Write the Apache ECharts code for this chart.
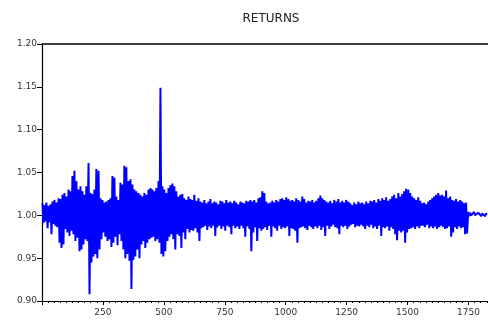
<!DOCTYPE html>
<html>
<head>
<meta charset="utf-8">
<script src="https://cdn.jsdelivr.net/npm/echarts@6/dist/echarts.min.js"></script>
<style>
html,body{margin:0;padding:0;background:#fff;}
#chart{width:488px;height:320px;}
</style>
</head>
<body>
<div id="chart"></div>
<script>
var titleText = 'RETURNS';
var yTicks = [0.90, 0.95, 1.00, 1.05, 1.10, 1.15, 1.20];
var xTickLabels = [250, 500, 750, 1000, 1250, 1500, 1750];
var obsStart = 2;
var obsStep = 4.1;
var returns = [
1.014,0.991,1.012,0.993,1.015,0.985,1.011,0.992,1.013,0.978,
1.016,0.990,1.018,0.988,1.015,0.986,1.020,0.968,1.019,0.962,
1.024,0.966,1.026,0.984,1.022,0.980,1.030,0.976,1.028,0.982,
1.046,0.978,1.052,0.970,1.040,0.974,1.030,0.958,1.034,0.960,
1.028,0.966,1.024,0.972,1.034,0.970,1.061,0.908,1.026,0.945,
1.025,0.952,1.030,0.955,1.054,0.950,1.052,0.960,1.020,0.972,
1.018,0.980,1.015,0.975,1.016,0.970,1.018,0.972,1.020,0.963,
1.046,0.968,1.044,0.975,1.022,0.965,1.018,0.978,1.038,0.970,
1.036,0.960,1.058,0.950,1.056,0.955,1.040,0.947,1.042,0.914,
1.036,0.948,1.030,0.952,1.028,0.960,1.026,0.950,1.024,0.966,
1.022,0.970,1.026,0.962,1.024,0.968,1.030,0.972,1.032,0.974,
1.030,0.975,1.028,0.970,1.032,0.972,1.040,0.968,1.149,0.955,
1.034,0.952,1.030,0.958,1.026,0.970,1.032,0.975,1.035,0.978,
1.037,0.972,1.034,0.960,1.028,0.978,1.022,0.976,1.024,0.962,
1.025,0.980,1.020,0.972,1.018,0.984,1.022,0.980,1.019,0.983,
1.018,0.982,1.024,0.985,1.017,0.980,1.020,0.970,1.016,0.985,
1.015,0.986,1.018,0.988,1.014,0.983,1.016,0.987,1.019,0.985,
1.014,0.988,1.016,0.976,1.015,0.986,1.013,0.988,1.017,0.984,
1.016,0.987,1.014,0.982,1.018,0.988,1.015,0.986,1.016,0.978,
1.014,0.988,1.017,0.985,1.015,0.987,1.013,0.984,1.016,0.988,
1.015,0.985,1.014,0.975,1.017,0.987,1.016,0.984,1.018,0.958,
1.016,0.980,1.018,0.986,1.015,0.970,1.020,0.985,1.021,0.982,
1.028,0.984,1.026,0.986,1.016,0.983,1.014,0.988,1.015,0.975,
1.017,0.987,1.015,0.985,1.018,0.982,1.016,0.988,1.019,0.984,
1.020,0.986,1.018,0.985,1.021,0.987,1.019,0.976,1.017,0.985,
1.018,0.984,1.016,0.982,1.020,0.968,1.018,0.985,1.016,0.986,
1.022,0.987,1.019,0.985,1.015,0.983,1.017,0.988,1.016,0.986,
1.018,0.984,1.015,0.987,1.017,0.985,1.020,0.988,1.023,0.983,
1.020,0.986,1.018,0.976,1.016,0.988,1.015,0.984,1.017,0.987,
1.014,0.989,1.018,0.986,1.016,0.985,1.019,0.978,1.015,0.988,
1.017,0.986,1.015,0.988,1.018,0.984,1.016,0.987,1.014,0.989,
1.012,0.990,1.015,0.986,1.013,0.988,1.016,0.987,1.014,0.989,
1.015,0.987,1.013,0.984,1.016,0.988,1.014,0.986,1.017,0.989,
1.016,0.985,1.018,0.987,1.015,0.984,1.019,0.988,1.017,0.976,
1.020,0.986,1.018,0.985,1.021,0.987,1.017,0.982,1.019,0.986,
1.022,0.984,1.024,0.978,1.020,0.971,1.026,0.982,1.022,0.980,
1.025,0.982,1.028,0.968,1.031,0.980,1.030,0.984,1.026,0.985,
1.022,0.986,1.020,0.984,1.018,0.987,1.021,0.985,1.017,0.988,
1.014,0.988,1.015,0.986,1.013,0.989,1.016,0.985,1.018,0.987,
1.020,0.985,1.022,0.987,1.024,0.984,1.026,0.986,1.023,0.988,
1.024,0.986,1.022,0.984,1.029,0.985,1.020,0.987,1.022,0.975,
1.018,0.980,1.017,0.986,1.019,0.984,1.016,0.987,1.018,0.985,
1.016,0.986,1.014,0.978,1.015,0.979,1.004,0.999,1.003,1.000,
1.002,0.999,1.004,1.000,1.002,0.998,1.003,1.001,1.004,0.999,
1.002,1.000,1.003,0.999,1.002,1.001
];

var seriesData = returns.map(function (v, k) {
  return [Math.round(obsStart + k * obsStep), v];
});

var chart = echarts.init(document.getElementById('chart'), null, {renderer: 'canvas'});
var font = 'DejaVu Sans';
chart.setOption({
  animation: false,
  backgroundColor: '#ffffff',
  title: {
    text: titleText,
    left: 266,
    textAlign: 'center',
    top: 8,
    textStyle: {fontFamily: font, fontSize: 12, fontWeight: 'normal', color: '#222'}
  },
  grid: {left: 42, right: 0, top: 44, bottom: 19, containLabel: false},
  xAxis: [{
    type: 'value',
    min: 0,
    max: 1830,
    interval: 250,
    position: 'bottom',
    axisLine: {show: true, lineStyle: {color: '#000', width: 1.2}},
    axisTick: {show: true, length: 4, lineStyle: {color: '#000'}},
    minorTick: {show: true, splitNumber: 10, length: 2, lineStyle: {color: '#000'}},
    splitLine: {show: false},
    axisLabel: {
      show: true, margin: 7, fontFamily: font, fontSize: 9, color: '#333',
      showMinLabel: false, showMaxLabel: false,
      formatter: function (v) { return xTickLabels.indexOf(v) >= 0 ? String(v) : ''; }
    }
  }, {
    type: 'value',
    min: 0,
    max: 1830,
    position: 'top',
    axisLine: {show: true, onZero: false, lineStyle: {color: '#000', width: 1.5}},
    axisTick: {show: false},
    axisLabel: {show: false},
    splitLine: {show: false}
  }],
  yAxis: {
    type: 'value',
    min: 0.90,
    max: 1.20,
    interval: 0.05,
    axisLine: {show: true, lineStyle: {color: '#000', width: 1.2}},
    axisTick: {show: true, length: 5, lineStyle: {color: '#000'}},
    splitLine: {show: false},
    axisLabel: {
      margin: 5, fontFamily: font, fontSize: 9, color: '#333',
      formatter: function (v) {
        var r = Math.round(v * 100) / 100;
        return yTicks.indexOf(r) >= 0 ? r.toFixed(2) : '';
      }
    }
  },
  series: [{
    type: 'line',
    xAxisIndex: 0,
    data: seriesData,
    showSymbol: false,
    symbol: 'none',
    lineStyle: {color: '#0000ff', width: 2},
    sampling: null
  }]
});
</script>
</body>
</html>
